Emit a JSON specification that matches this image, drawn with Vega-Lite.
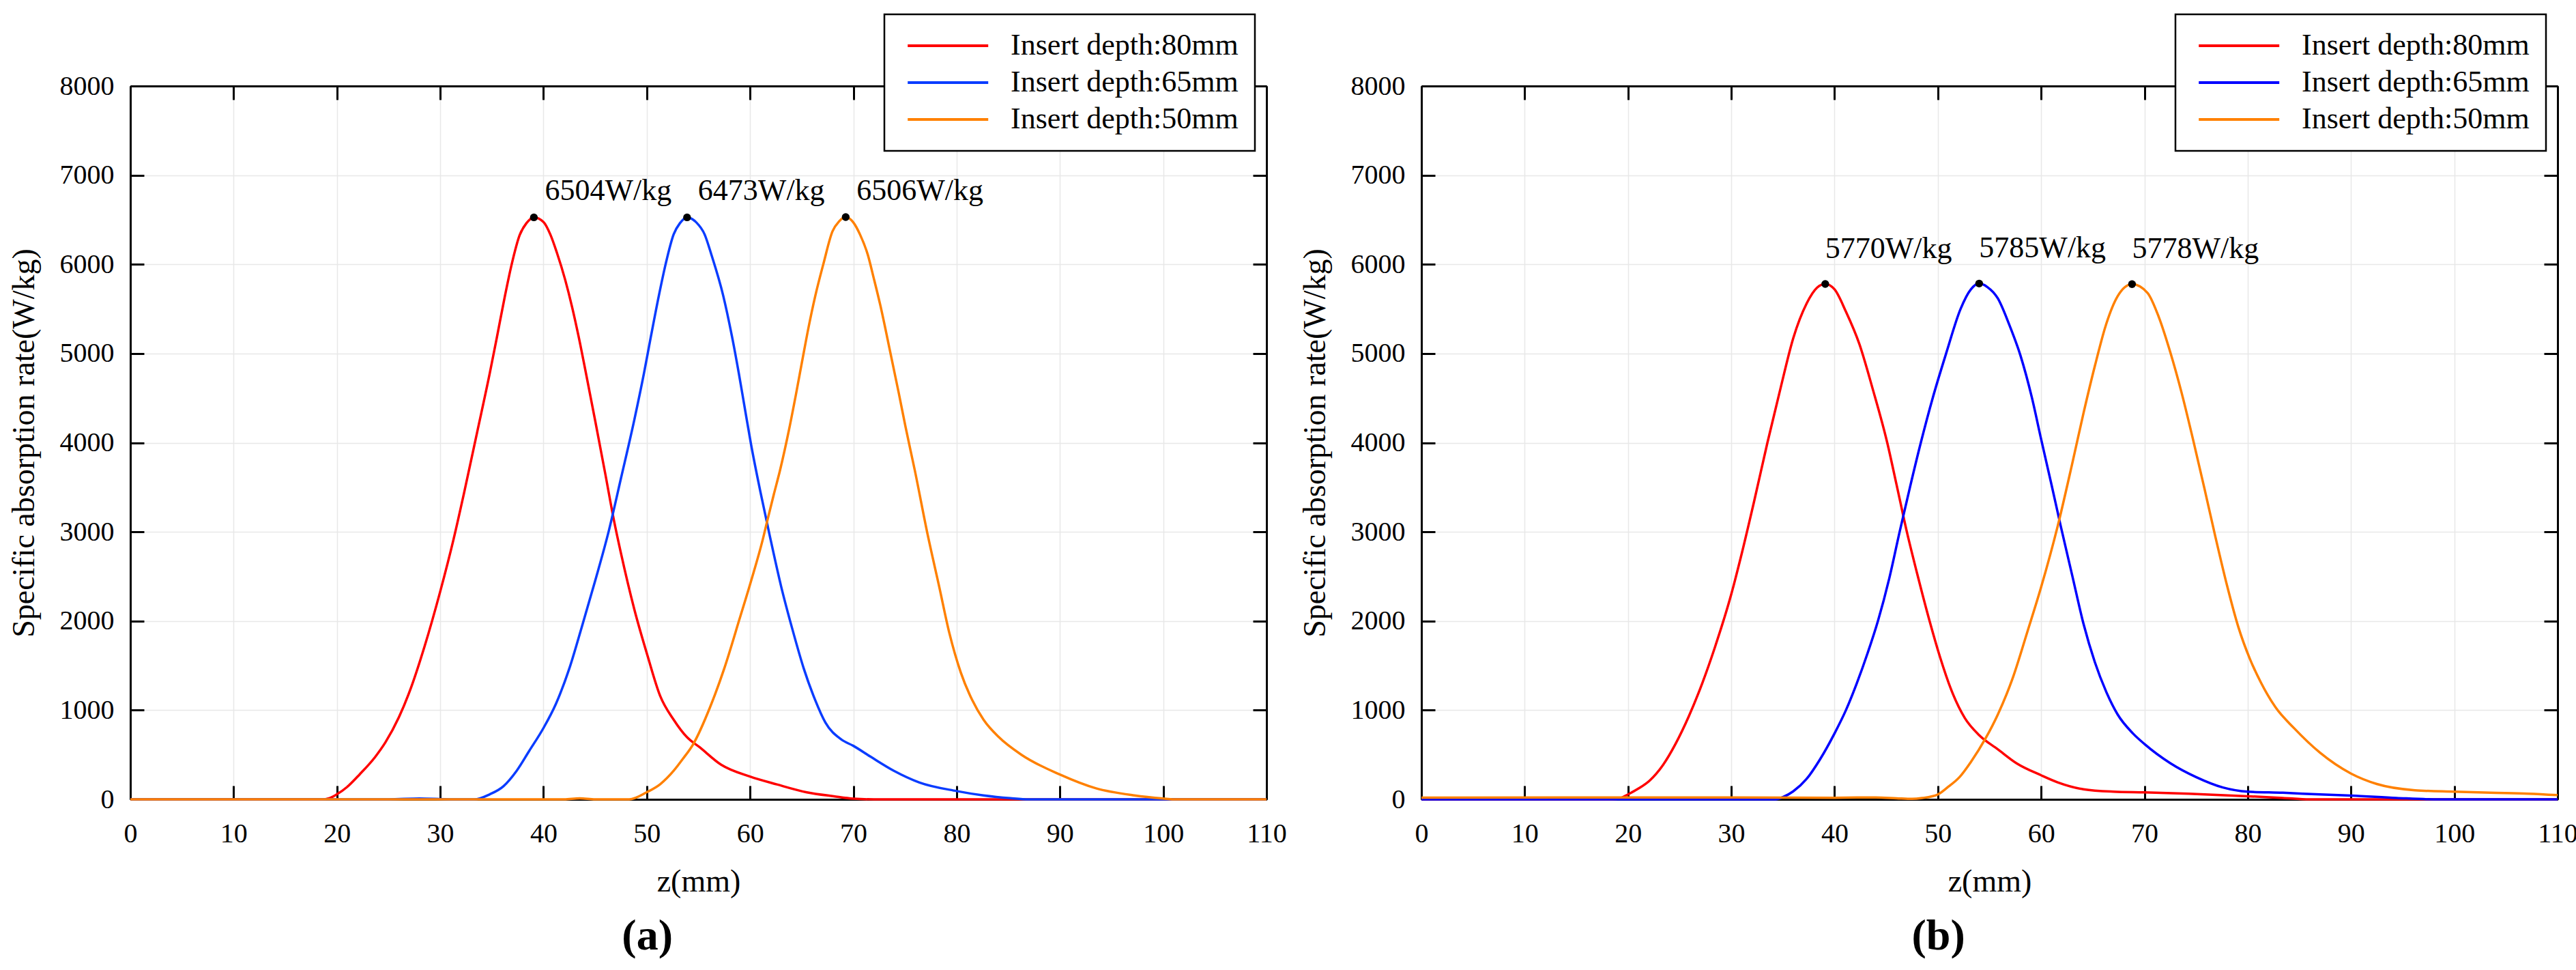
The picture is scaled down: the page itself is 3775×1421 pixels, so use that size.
{
  "$schema": "https://vega.github.io/schema/vega-lite/v6.json",
  "background": "white",
  "padding": {"left": 12, "top": 19, "right": 0, "bottom": 0},
  "config": {
    "font": "Liberation Serif",
    "view": {"stroke": null},
    "axis": {
      "domainColor": "black", "domainWidth": 3,
      "tickColor": "black", "tickWidth": 3, "tickSize": -20,
      "labelFont": "Liberation Serif", "labelFontSize": 40, "labelColor": "black", "labelFlush": false, "labelOverlap": false,
      "titleFont": "Liberation Serif", "titleFontSize": 46, "titleFontWeight": "normal", "titleColor": "black",
      "gridColor": "#e8e8e8", "gridWidth": 1.5
    },
    "axisX": {"labelPadding": 50, "titlePadding": 28},
    "axisY": {"labelPadding": 44, "titlePadding": 28},
    "legend": {
      "orient": "none", "legendX": 1105, "legendY": -105,
      "symbolType": "M-1,0H9", "symbolSize": 557, "symbolStrokeWidth": 4,
      "labelFont": "Liberation Serif", "labelFontSize": 44, "labelColor": "black", "labelLimit": 1000, "labelOffset": 117,
      "padding": 24, "rowPadding": 10,
      "strokeColor": "black", "strokeWidth": 2.5, "fillColor": "white", "zindex": 2
    }
  },
  "datasets": {
    "a_curves": [
      {"z": 0, "sar": 0, "depth": "Insert depth:80mm"},
      {"z": 10, "sar": 0, "depth": "Insert depth:80mm"},
      {"z": 18.5, "sar": 0, "depth": "Insert depth:80mm"},
      {"z": 19.3, "sar": 15, "depth": "Insert depth:80mm"},
      {"z": 20, "sar": 57, "depth": "Insert depth:80mm"},
      {"z": 21, "sar": 140, "depth": "Insert depth:80mm"},
      {"z": 22.2, "sar": 280, "depth": "Insert depth:80mm"},
      {"z": 23.7, "sar": 475, "depth": "Insert depth:80mm"},
      {"z": 24.7, "sar": 640, "depth": "Insert depth:80mm"},
      {"z": 26, "sar": 920, "depth": "Insert depth:80mm"},
      {"z": 27.2, "sar": 1260, "depth": "Insert depth:80mm"},
      {"z": 28.5, "sar": 1720, "depth": "Insert depth:80mm"},
      {"z": 30, "sar": 2330, "depth": "Insert depth:80mm"},
      {"z": 31.3, "sar": 2920, "depth": "Insert depth:80mm"},
      {"z": 32.3, "sar": 3430, "depth": "Insert depth:80mm"},
      {"z": 33.6, "sar": 4130, "depth": "Insert depth:80mm"},
      {"z": 34.8, "sar": 4780, "depth": "Insert depth:80mm"},
      {"z": 35.47, "sar": 5170, "depth": "Insert depth:80mm"},
      {"z": 36.24, "sar": 5630, "depth": "Insert depth:80mm"},
      {"z": 36.9, "sar": 5990, "depth": "Insert depth:80mm"},
      {"z": 37.7, "sar": 6330, "depth": "Insert depth:80mm"},
      {"z": 38.34, "sar": 6460, "depth": "Insert depth:80mm"},
      {"z": 39.07, "sar": 6527, "depth": "Insert depth:80mm"},
      {"z": 40, "sar": 6475, "depth": "Insert depth:80mm"},
      {"z": 40.66, "sar": 6336, "depth": "Insert depth:80mm"},
      {"z": 41.3, "sar": 6130, "depth": "Insert depth:80mm"},
      {"z": 42.1, "sar": 5827, "depth": "Insert depth:80mm"},
      {"z": 42.77, "sar": 5521, "depth": "Insert depth:80mm"},
      {"z": 43.4, "sar": 5191, "depth": "Insert depth:80mm"},
      {"z": 44.1, "sar": 4786, "depth": "Insert depth:80mm"},
      {"z": 45, "sar": 4250, "depth": "Insert depth:80mm"},
      {"z": 46, "sar": 3640, "depth": "Insert depth:80mm"},
      {"z": 46.8, "sar": 3141, "depth": "Insert depth:80mm"},
      {"z": 47.5, "sar": 2760, "depth": "Insert depth:80mm"},
      {"z": 48.8, "sar": 2128, "depth": "Insert depth:80mm"},
      {"z": 50.1, "sar": 1600, "depth": "Insert depth:80mm"},
      {"z": 51.3, "sar": 1159, "depth": "Insert depth:80mm"},
      {"z": 52.6, "sar": 894, "depth": "Insert depth:80mm"},
      {"z": 53.9, "sar": 696, "depth": "Insert depth:80mm"},
      {"z": 55.1, "sar": 586, "depth": "Insert depth:80mm"},
      {"z": 57.2, "sar": 388, "depth": "Insert depth:80mm"},
      {"z": 60, "sar": 255, "depth": "Insert depth:80mm"},
      {"z": 62.6, "sar": 167, "depth": "Insert depth:80mm"},
      {"z": 65.5, "sar": 79, "depth": "Insert depth:80mm"},
      {"z": 68.1, "sar": 35, "depth": "Insert depth:80mm"},
      {"z": 70, "sar": 8, "depth": "Insert depth:80mm"},
      {"z": 72, "sar": 0, "depth": "Insert depth:80mm"},
      {"z": 110, "sar": 0, "depth": "Insert depth:80mm"},

      {"z": 0, "sar": 0, "depth": "Insert depth:65mm"},
      {"z": 25, "sar": 0, "depth": "Insert depth:65mm"},
      {"z": 28, "sar": 10, "depth": "Insert depth:65mm"},
      {"z": 31, "sar": 0, "depth": "Insert depth:65mm"},
      {"z": 33.3, "sar": 0, "depth": "Insert depth:65mm"},
      {"z": 34.8, "sar": 57, "depth": "Insert depth:65mm"},
      {"z": 36.1, "sar": 145, "depth": "Insert depth:65mm"},
      {"z": 37.4, "sar": 320, "depth": "Insert depth:65mm"},
      {"z": 38.6, "sar": 540, "depth": "Insert depth:65mm"},
      {"z": 40, "sar": 800, "depth": "Insert depth:65mm"},
      {"z": 41.2, "sar": 1070, "depth": "Insert depth:65mm"},
      {"z": 42.5, "sar": 1467, "depth": "Insert depth:65mm"},
      {"z": 43.7, "sar": 1930, "depth": "Insert depth:65mm"},
      {"z": 45, "sar": 2450, "depth": "Insert depth:65mm"},
      {"z": 46.3, "sar": 3000, "depth": "Insert depth:65mm"},
      {"z": 47.5, "sar": 3600, "depth": "Insert depth:65mm"},
      {"z": 48.8, "sar": 4260, "depth": "Insert depth:65mm"},
      {"z": 49.74, "sar": 4786, "depth": "Insert depth:65mm"},
      {"z": 50.4, "sar": 5191, "depth": "Insert depth:65mm"},
      {"z": 51.17, "sar": 5649, "depth": "Insert depth:65mm"},
      {"z": 51.83, "sar": 6005, "depth": "Insert depth:65mm"},
      {"z": 52.6, "sar": 6336, "depth": "Insert depth:65mm"},
      {"z": 53.2, "sar": 6460, "depth": "Insert depth:65mm"},
      {"z": 53.9, "sar": 6527, "depth": "Insert depth:65mm"},
      {"z": 54.8, "sar": 6470, "depth": "Insert depth:65mm"},
      {"z": 55.6, "sar": 6336, "depth": "Insert depth:65mm"},
      {"z": 56.26, "sar": 6107, "depth": "Insert depth:65mm"},
      {"z": 57.4, "sar": 5649, "depth": "Insert depth:65mm"},
      {"z": 58.25, "sar": 5191, "depth": "Insert depth:65mm"},
      {"z": 58.9, "sar": 4786, "depth": "Insert depth:65mm"},
      {"z": 59.5, "sar": 4380, "depth": "Insert depth:65mm"},
      {"z": 60.1, "sar": 3978, "depth": "Insert depth:65mm"},
      {"z": 61, "sar": 3450, "depth": "Insert depth:65mm"},
      {"z": 61.9, "sar": 2960, "depth": "Insert depth:65mm"},
      {"z": 63, "sar": 2392, "depth": "Insert depth:65mm"},
      {"z": 64.1, "sar": 1907, "depth": "Insert depth:65mm"},
      {"z": 65.2, "sar": 1467, "depth": "Insert depth:65mm"},
      {"z": 66.3, "sar": 1115, "depth": "Insert depth:65mm"},
      {"z": 67.3, "sar": 860, "depth": "Insert depth:65mm"},
      {"z": 68.8, "sar": 674, "depth": "Insert depth:65mm"},
      {"z": 70, "sar": 600, "depth": "Insert depth:65mm"},
      {"z": 71.7, "sar": 476, "depth": "Insert depth:65mm"},
      {"z": 73.9, "sar": 322, "depth": "Insert depth:65mm"},
      {"z": 76.4, "sar": 189, "depth": "Insert depth:65mm"},
      {"z": 80, "sar": 93, "depth": "Insert depth:65mm"},
      {"z": 82.6, "sar": 44, "depth": "Insert depth:65mm"},
      {"z": 85.2, "sar": 13, "depth": "Insert depth:65mm"},
      {"z": 87, "sar": 0, "depth": "Insert depth:65mm"},
      {"z": 110, "sar": 0, "depth": "Insert depth:65mm"},

      {"z": 0, "sar": 0, "depth": "Insert depth:50mm"},
      {"z": 42, "sar": 0, "depth": "Insert depth:50mm"},
      {"z": 43.5, "sar": 12, "depth": "Insert depth:50mm"},
      {"z": 45, "sar": 0, "depth": "Insert depth:50mm"},
      {"z": 48.3, "sar": 0, "depth": "Insert depth:50mm"},
      {"z": 50, "sar": 80, "depth": "Insert depth:50mm"},
      {"z": 51.3, "sar": 170, "depth": "Insert depth:50mm"},
      {"z": 52.6, "sar": 320, "depth": "Insert depth:50mm"},
      {"z": 53.5, "sar": 455, "depth": "Insert depth:50mm"},
      {"z": 54.5, "sar": 620, "depth": "Insert depth:50mm"},
      {"z": 56.1, "sar": 1026, "depth": "Insert depth:50mm"},
      {"z": 57.5, "sar": 1467, "depth": "Insert depth:50mm"},
      {"z": 59, "sar": 2030, "depth": "Insert depth:50mm"},
      {"z": 60.1, "sar": 2450, "depth": "Insert depth:50mm"},
      {"z": 61.2, "sar": 2900, "depth": "Insert depth:50mm"},
      {"z": 61.7, "sar": 3140, "depth": "Insert depth:50mm"},
      {"z": 62.3, "sar": 3420, "depth": "Insert depth:50mm"},
      {"z": 62.9, "sar": 3690, "depth": "Insert depth:50mm"},
      {"z": 63.78, "sar": 4150, "depth": "Insert depth:50mm"},
      {"z": 64.44, "sar": 4540, "depth": "Insert depth:50mm"},
      {"z": 65.1, "sar": 4950, "depth": "Insert depth:50mm"},
      {"z": 65.66, "sar": 5292, "depth": "Insert depth:50mm"},
      {"z": 66.32, "sar": 5649, "depth": "Insert depth:50mm"},
      {"z": 67.1, "sar": 6005, "depth": "Insert depth:50mm"},
      {"z": 67.98, "sar": 6370, "depth": "Insert depth:50mm"},
      {"z": 68.6, "sar": 6480, "depth": "Insert depth:50mm"},
      {"z": 69.26, "sar": 6530, "depth": "Insert depth:50mm"},
      {"z": 70, "sar": 6470, "depth": "Insert depth:50mm"},
      {"z": 70.64, "sar": 6336, "depth": "Insert depth:50mm"},
      {"z": 71.4, "sar": 6107, "depth": "Insert depth:50mm"},
      {"z": 71.96, "sar": 5852, "depth": "Insert depth:50mm"},
      {"z": 72.6, "sar": 5547, "depth": "Insert depth:50mm"},
      {"z": 73.6, "sar": 5000, "depth": "Insert depth:50mm"},
      {"z": 74.4, "sar": 4555, "depth": "Insert depth:50mm"},
      {"z": 75.06, "sar": 4173, "depth": "Insert depth:50mm"},
      {"z": 75.95, "sar": 3690, "depth": "Insert depth:50mm"},
      {"z": 77.2, "sar": 2965, "depth": "Insert depth:50mm"},
      {"z": 78.3, "sar": 2392, "depth": "Insert depth:50mm"},
      {"z": 79.3, "sar": 1863, "depth": "Insert depth:50mm"},
      {"z": 80.4, "sar": 1423, "depth": "Insert depth:50mm"},
      {"z": 81.5, "sar": 1115, "depth": "Insert depth:50mm"},
      {"z": 82.6, "sar": 894, "depth": "Insert depth:50mm"},
      {"z": 84.1, "sar": 696, "depth": "Insert depth:50mm"},
      {"z": 86.3, "sar": 498, "depth": "Insert depth:50mm"},
      {"z": 90, "sar": 278, "depth": "Insert depth:50mm"},
      {"z": 93.5, "sar": 123, "depth": "Insert depth:50mm"},
      {"z": 97.2, "sar": 44, "depth": "Insert depth:50mm"},
      {"z": 100, "sar": 9, "depth": "Insert depth:50mm"},
      {"z": 101, "sar": 0, "depth": "Insert depth:50mm"},
      {"z": 110, "sar": 0, "depth": "Insert depth:50mm"}
    ],
    "a_peaks": [
      {"z": 39.07, "sar": 6527, "label": "6504W/kg"},
      {"z": 53.9, "sar": 6527, "label": "6473W/kg"},
      {"z": 69.26, "sar": 6530, "label": "6506W/kg"}
    ],
    "b_curves": [
      {"z": 0, "sar": 0, "depth": "Insert depth:80mm"},
      {"z": 18.5, "sar": 0, "depth": "Insert depth:80mm"},
      {"z": 19.3, "sar": 15, "depth": "Insert depth:80mm"},
      {"z": 20, "sar": 55, "depth": "Insert depth:80mm"},
      {"z": 21, "sar": 120, "depth": "Insert depth:80mm"},
      {"z": 22.1, "sar": 211, "depth": "Insert depth:80mm"},
      {"z": 23.4, "sar": 387, "depth": "Insert depth:80mm"},
      {"z": 24.6, "sar": 621, "depth": "Insert depth:80mm"},
      {"z": 25.9, "sar": 934, "depth": "Insert depth:80mm"},
      {"z": 27.2, "sar": 1305, "depth": "Insert depth:80mm"},
      {"z": 28.4, "sar": 1700, "depth": "Insert depth:80mm"},
      {"z": 30, "sar": 2300, "depth": "Insert depth:80mm"},
      {"z": 31, "sar": 2750, "depth": "Insert depth:80mm"},
      {"z": 32.2, "sar": 3336, "depth": "Insert depth:80mm"},
      {"z": 33.5, "sar": 4000, "depth": "Insert depth:80mm"},
      {"z": 34.8, "sar": 4625, "depth": "Insert depth:80mm"},
      {"z": 36, "sar": 5172, "depth": "Insert depth:80mm"},
      {"z": 37.3, "sar": 5562, "depth": "Insert depth:80mm"},
      {"z": 38.3, "sar": 5738, "depth": "Insert depth:80mm"},
      {"z": 39.1, "sar": 5780, "depth": "Insert depth:80mm"},
      {"z": 40, "sar": 5719, "depth": "Insert depth:80mm"},
      {"z": 41.1, "sar": 5470, "depth": "Insert depth:80mm"},
      {"z": 42.4, "sar": 5107, "depth": "Insert depth:80mm"},
      {"z": 43.7, "sar": 4600, "depth": "Insert depth:80mm"},
      {"z": 45.1, "sar": 4000, "depth": "Insert depth:80mm"},
      {"z": 46, "sar": 3530, "depth": "Insert depth:80mm"},
      {"z": 47, "sar": 3000, "depth": "Insert depth:80mm"},
      {"z": 48, "sar": 2530, "depth": "Insert depth:80mm"},
      {"z": 49.2, "sar": 2000, "depth": "Insert depth:80mm"},
      {"z": 50.2, "sar": 1600, "depth": "Insert depth:80mm"},
      {"z": 51.3, "sar": 1227, "depth": "Insert depth:80mm"},
      {"z": 52.6, "sar": 914, "depth": "Insert depth:80mm"},
      {"z": 54, "sar": 720, "depth": "Insert depth:80mm"},
      {"z": 55.8, "sar": 562, "depth": "Insert depth:80mm"},
      {"z": 57.6, "sar": 406, "depth": "Insert depth:80mm"},
      {"z": 60, "sar": 270, "depth": "Insert depth:80mm"},
      {"z": 61.6, "sar": 191, "depth": "Insert depth:80mm"},
      {"z": 64.1, "sar": 113, "depth": "Insert depth:80mm"},
      {"z": 67, "sar": 86, "depth": "Insert depth:80mm"},
      {"z": 70, "sar": 78, "depth": "Insert depth:80mm"},
      {"z": 74.3, "sar": 63, "depth": "Insert depth:80mm"},
      {"z": 80, "sar": 35, "depth": "Insert depth:80mm"},
      {"z": 83.4, "sar": 16, "depth": "Insert depth:80mm"},
      {"z": 86, "sar": 0, "depth": "Insert depth:80mm"},
      {"z": 110, "sar": 0, "depth": "Insert depth:80mm"},

      {"z": 0, "sar": 0, "depth": "Insert depth:65mm"},
      {"z": 34.3, "sar": 0, "depth": "Insert depth:65mm"},
      {"z": 35, "sar": 25, "depth": "Insert depth:65mm"},
      {"z": 36, "sar": 90, "depth": "Insert depth:65mm"},
      {"z": 37.3, "sar": 230, "depth": "Insert depth:65mm"},
      {"z": 38.6, "sar": 450, "depth": "Insert depth:65mm"},
      {"z": 40, "sar": 740, "depth": "Insert depth:65mm"},
      {"z": 41.1, "sar": 1000, "depth": "Insert depth:65mm"},
      {"z": 42.15, "sar": 1300, "depth": "Insert depth:65mm"},
      {"z": 43.2, "sar": 1640, "depth": "Insert depth:65mm"},
      {"z": 44.2, "sar": 2000, "depth": "Insert depth:65mm"},
      {"z": 45.3, "sar": 2480, "depth": "Insert depth:65mm"},
      {"z": 46.3, "sar": 3000, "depth": "Insert depth:65mm"},
      {"z": 47.3, "sar": 3500, "depth": "Insert depth:65mm"},
      {"z": 48.35, "sar": 4000, "depth": "Insert depth:65mm"},
      {"z": 49.5, "sar": 4500, "depth": "Insert depth:65mm"},
      {"z": 50.8, "sar": 5000, "depth": "Insert depth:65mm"},
      {"z": 52.2, "sar": 5500, "depth": "Insert depth:65mm"},
      {"z": 53.2, "sar": 5720, "depth": "Insert depth:65mm"},
      {"z": 54, "sar": 5785, "depth": "Insert depth:65mm"},
      {"z": 54.8, "sar": 5745, "depth": "Insert depth:65mm"},
      {"z": 55.8, "sar": 5620, "depth": "Insert depth:65mm"},
      {"z": 56.9, "sar": 5328, "depth": "Insert depth:65mm"},
      {"z": 58, "sar": 4977, "depth": "Insert depth:65mm"},
      {"z": 59.1, "sar": 4508, "depth": "Insert depth:65mm"},
      {"z": 60, "sar": 4039, "depth": "Insert depth:65mm"},
      {"z": 61, "sar": 3531, "depth": "Insert depth:65mm"},
      {"z": 61.9, "sar": 3063, "depth": "Insert depth:65mm"},
      {"z": 63, "sar": 2516, "depth": "Insert depth:65mm"},
      {"z": 64.1, "sar": 1969, "depth": "Insert depth:65mm"},
      {"z": 65.2, "sar": 1539, "depth": "Insert depth:65mm"},
      {"z": 66.3, "sar": 1207, "depth": "Insert depth:65mm"},
      {"z": 67.4, "sar": 953, "depth": "Insert depth:65mm"},
      {"z": 68.9, "sar": 738, "depth": "Insert depth:65mm"},
      {"z": 70, "sar": 621, "depth": "Insert depth:65mm"},
      {"z": 72.5, "sar": 406, "depth": "Insert depth:65mm"},
      {"z": 75, "sar": 250, "depth": "Insert depth:65mm"},
      {"z": 77.6, "sar": 133, "depth": "Insert depth:65mm"},
      {"z": 80, "sar": 86, "depth": "Insert depth:65mm"},
      {"z": 83.4, "sar": 74, "depth": "Insert depth:65mm"},
      {"z": 87, "sar": 55, "depth": "Insert depth:65mm"},
      {"z": 90, "sar": 43, "depth": "Insert depth:65mm"},
      {"z": 94.4, "sar": 16, "depth": "Insert depth:65mm"},
      {"z": 98, "sar": 0, "depth": "Insert depth:65mm"},
      {"z": 110, "sar": 0, "depth": "Insert depth:65mm"},

      {"z": 0, "sar": 20, "depth": "Insert depth:50mm"},
      {"z": 20, "sar": 22, "depth": "Insert depth:50mm"},
      {"z": 30, "sar": 22, "depth": "Insert depth:50mm"},
      {"z": 40, "sar": 18, "depth": "Insert depth:50mm"},
      {"z": 44, "sar": 22, "depth": "Insert depth:50mm"},
      {"z": 46, "sar": 12, "depth": "Insert depth:50mm"},
      {"z": 47.5, "sar": 5, "depth": "Insert depth:50mm"},
      {"z": 48.5, "sar": 15, "depth": "Insert depth:50mm"},
      {"z": 50, "sar": 55, "depth": "Insert depth:50mm"},
      {"z": 51, "sar": 140, "depth": "Insert depth:50mm"},
      {"z": 52.1, "sar": 250, "depth": "Insert depth:50mm"},
      {"z": 53.2, "sar": 420, "depth": "Insert depth:50mm"},
      {"z": 54.6, "sar": 680, "depth": "Insert depth:50mm"},
      {"z": 55.8, "sar": 950, "depth": "Insert depth:50mm"},
      {"z": 57.2, "sar": 1344, "depth": "Insert depth:50mm"},
      {"z": 58.7, "sar": 1891, "depth": "Insert depth:50mm"},
      {"z": 60, "sar": 2380, "depth": "Insert depth:50mm"},
      {"z": 61.6, "sar": 3063, "depth": "Insert depth:50mm"},
      {"z": 63, "sar": 3760, "depth": "Insert depth:50mm"},
      {"z": 64.1, "sar": 4330, "depth": "Insert depth:50mm"},
      {"z": 65.2, "sar": 4859, "depth": "Insert depth:50mm"},
      {"z": 66.3, "sar": 5330, "depth": "Insert depth:50mm"},
      {"z": 67.4, "sar": 5641, "depth": "Insert depth:50mm"},
      {"z": 68.8, "sar": 5778, "depth": "Insert depth:50mm"},
      {"z": 70.3, "sar": 5680, "depth": "Insert depth:50mm"},
      {"z": 71.4, "sar": 5406, "depth": "Insert depth:50mm"},
      {"z": 72.5, "sar": 5016, "depth": "Insert depth:50mm"},
      {"z": 73.6, "sar": 4560, "depth": "Insert depth:50mm"},
      {"z": 74.7, "sar": 4039, "depth": "Insert depth:50mm"},
      {"z": 75.8, "sar": 3492, "depth": "Insert depth:50mm"},
      {"z": 76.9, "sar": 2930, "depth": "Insert depth:50mm"},
      {"z": 78, "sar": 2398, "depth": "Insert depth:50mm"},
      {"z": 79.1, "sar": 1930, "depth": "Insert depth:50mm"},
      {"z": 80.2, "sar": 1578, "depth": "Insert depth:50mm"},
      {"z": 81.3, "sar": 1305, "depth": "Insert depth:50mm"},
      {"z": 82.7, "sar": 1031, "depth": "Insert depth:50mm"},
      {"z": 84.5, "sar": 797, "depth": "Insert depth:50mm"},
      {"z": 87, "sar": 523, "depth": "Insert depth:50mm"},
      {"z": 90, "sar": 289, "depth": "Insert depth:50mm"},
      {"z": 92.5, "sar": 172, "depth": "Insert depth:50mm"},
      {"z": 96.2, "sar": 102, "depth": "Insert depth:50mm"},
      {"z": 100, "sar": 86, "depth": "Insert depth:50mm"},
      {"z": 103.5, "sar": 74, "depth": "Insert depth:50mm"},
      {"z": 107.2, "sar": 63, "depth": "Insert depth:50mm"},
      {"z": 110, "sar": 47, "depth": "Insert depth:50mm"}
    ],
    "b_peaks": [
      {"z": 39.1, "sar": 5780, "label": "5770W/kg"},
      {"z": 54.0, "sar": 5785, "label": "5785W/kg"},
      {"z": 68.8, "sar": 5778, "label": "5778W/kg"}
    ]
  },
  "resolve": {"scale": {"color": "independent"}, "legend": {"color": "independent"}},
  "spacing": 18,
  "hconcat": [
    {
      "width": 1665,
      "height": 1045,
      "title": {"text": "(a)", "orient": "bottom", "anchor": "middle", "frame": "bounds", "fontSize": 64, "fontWeight": "bold", "font": "Liberation Serif", "color": "black", "offset": 26},
      "layer": [
        {
          "data": {"name": "a_curves"},
          "mark": {"type": "line", "strokeWidth": 3.5, "interpolate": "monotone"},
          "encoding": {
            "x": {"field": "z", "type": "quantitative", "scale": {"domain": [0, 110], "nice": false},
                  "axis": {"orient": "bottom", "title": "z(mm)", "format": "d", "values": [0, 10, 20, 30, 40, 50, 60, 70, 80, 90, 100, 110], "grid": true}},
            "y": {"field": "sar", "type": "quantitative", "scale": {"domain": [0, 8000], "nice": false},
                  "axis": {"orient": "left", "title": "Specific absorption rate(W/kg)", "format": "d", "values": [0, 1000, 2000, 3000, 4000, 5000, 6000, 7000, 8000], "grid": true}},
            "color": {"field": "depth", "type": "nominal",
                      "scale": {"domain": ["Insert depth:80mm", "Insert depth:65mm", "Insert depth:50mm"], "range": ["#ff0000", "#0a3cff", "#ff8000"]},
                      "legend": {"title": null}}
          }
        },
        {
          "data": {"name": "a_peaks"},
          "mark": {"type": "point", "filled": true, "color": "black", "size": 130, "opacity": 1},
          "encoding": {
            "x": {"field": "z", "type": "quantitative",
                  "axis": {"orient": "top", "title": null, "labels": false, "grid": false, "values": [0, 10, 20, 30, 40, 50, 60, 70, 80, 90, 100, 110]}},
            "y": {"field": "sar", "type": "quantitative",
                  "axis": {"orient": "right", "title": null, "labels": false, "grid": false, "values": [0, 1000, 2000, 3000, 4000, 5000, 6000, 7000, 8000]}}
          }
        },
        {
          "data": {"name": "a_peaks"},
          "mark": {"type": "text", "align": "left", "baseline": "alphabetic", "dx": 16, "dy": -25, "fontSize": 44, "font": "Liberation Serif", "color": "black"},
          "encoding": {
            "x": {"field": "z", "type": "quantitative", "axis": null},
            "y": {"field": "sar", "type": "quantitative", "axis": null},
            "text": {"field": "label"}
          }
        }
      ]
    },
    {
      "width": 1665,
      "height": 1045,
      "title": {"text": "(b)", "orient": "bottom", "anchor": "middle", "frame": "bounds", "fontSize": 64, "fontWeight": "bold", "font": "Liberation Serif", "color": "black", "offset": 26},
      "layer": [
        {
          "data": {"name": "b_curves"},
          "mark": {"type": "line", "strokeWidth": 3.5, "interpolate": "monotone"},
          "encoding": {
            "x": {"field": "z", "type": "quantitative", "scale": {"domain": [0, 110], "nice": false},
                  "axis": {"orient": "bottom", "title": "z(mm)", "format": "d", "values": [0, 10, 20, 30, 40, 50, 60, 70, 80, 90, 100, 110], "grid": true}},
            "y": {"field": "sar", "type": "quantitative", "scale": {"domain": [0, 8000], "nice": false},
                  "axis": {"orient": "left", "title": "Specific absorption rate(W/kg)", "format": "d", "values": [0, 1000, 2000, 3000, 4000, 5000, 6000, 7000, 8000], "grid": true}},
            "color": {"field": "depth", "type": "nominal",
                      "scale": {"domain": ["Insert depth:80mm", "Insert depth:65mm", "Insert depth:50mm"], "range": ["#ff0000", "#0000ff", "#ff8000"]},
                      "legend": {"title": null}}
          }
        },
        {
          "data": {"name": "b_peaks"},
          "mark": {"type": "point", "filled": true, "color": "black", "size": 130, "opacity": 1},
          "encoding": {
            "x": {"field": "z", "type": "quantitative",
                  "axis": {"orient": "top", "title": null, "labels": false, "grid": false, "values": [0, 10, 20, 30, 40, 50, 60, 70, 80, 90, 100, 110]}},
            "y": {"field": "sar", "type": "quantitative",
                  "axis": {"orient": "right", "title": null, "labels": false, "grid": false, "values": [0, 1000, 2000, 3000, 4000, 5000, 6000, 7000, 8000]}}
          }
        },
        {
          "data": {"name": "b_peaks"},
          "mark": {"type": "text", "align": "left", "baseline": "alphabetic", "dx": 0, "dy": -38, "fontSize": 44, "font": "Liberation Serif", "color": "black"},
          "encoding": {
            "x": {"field": "z", "type": "quantitative", "axis": null},
            "y": {"field": "sar", "type": "quantitative", "axis": null},
            "text": {"field": "label"}
          }
        }
      ]
    }
  ]
}
